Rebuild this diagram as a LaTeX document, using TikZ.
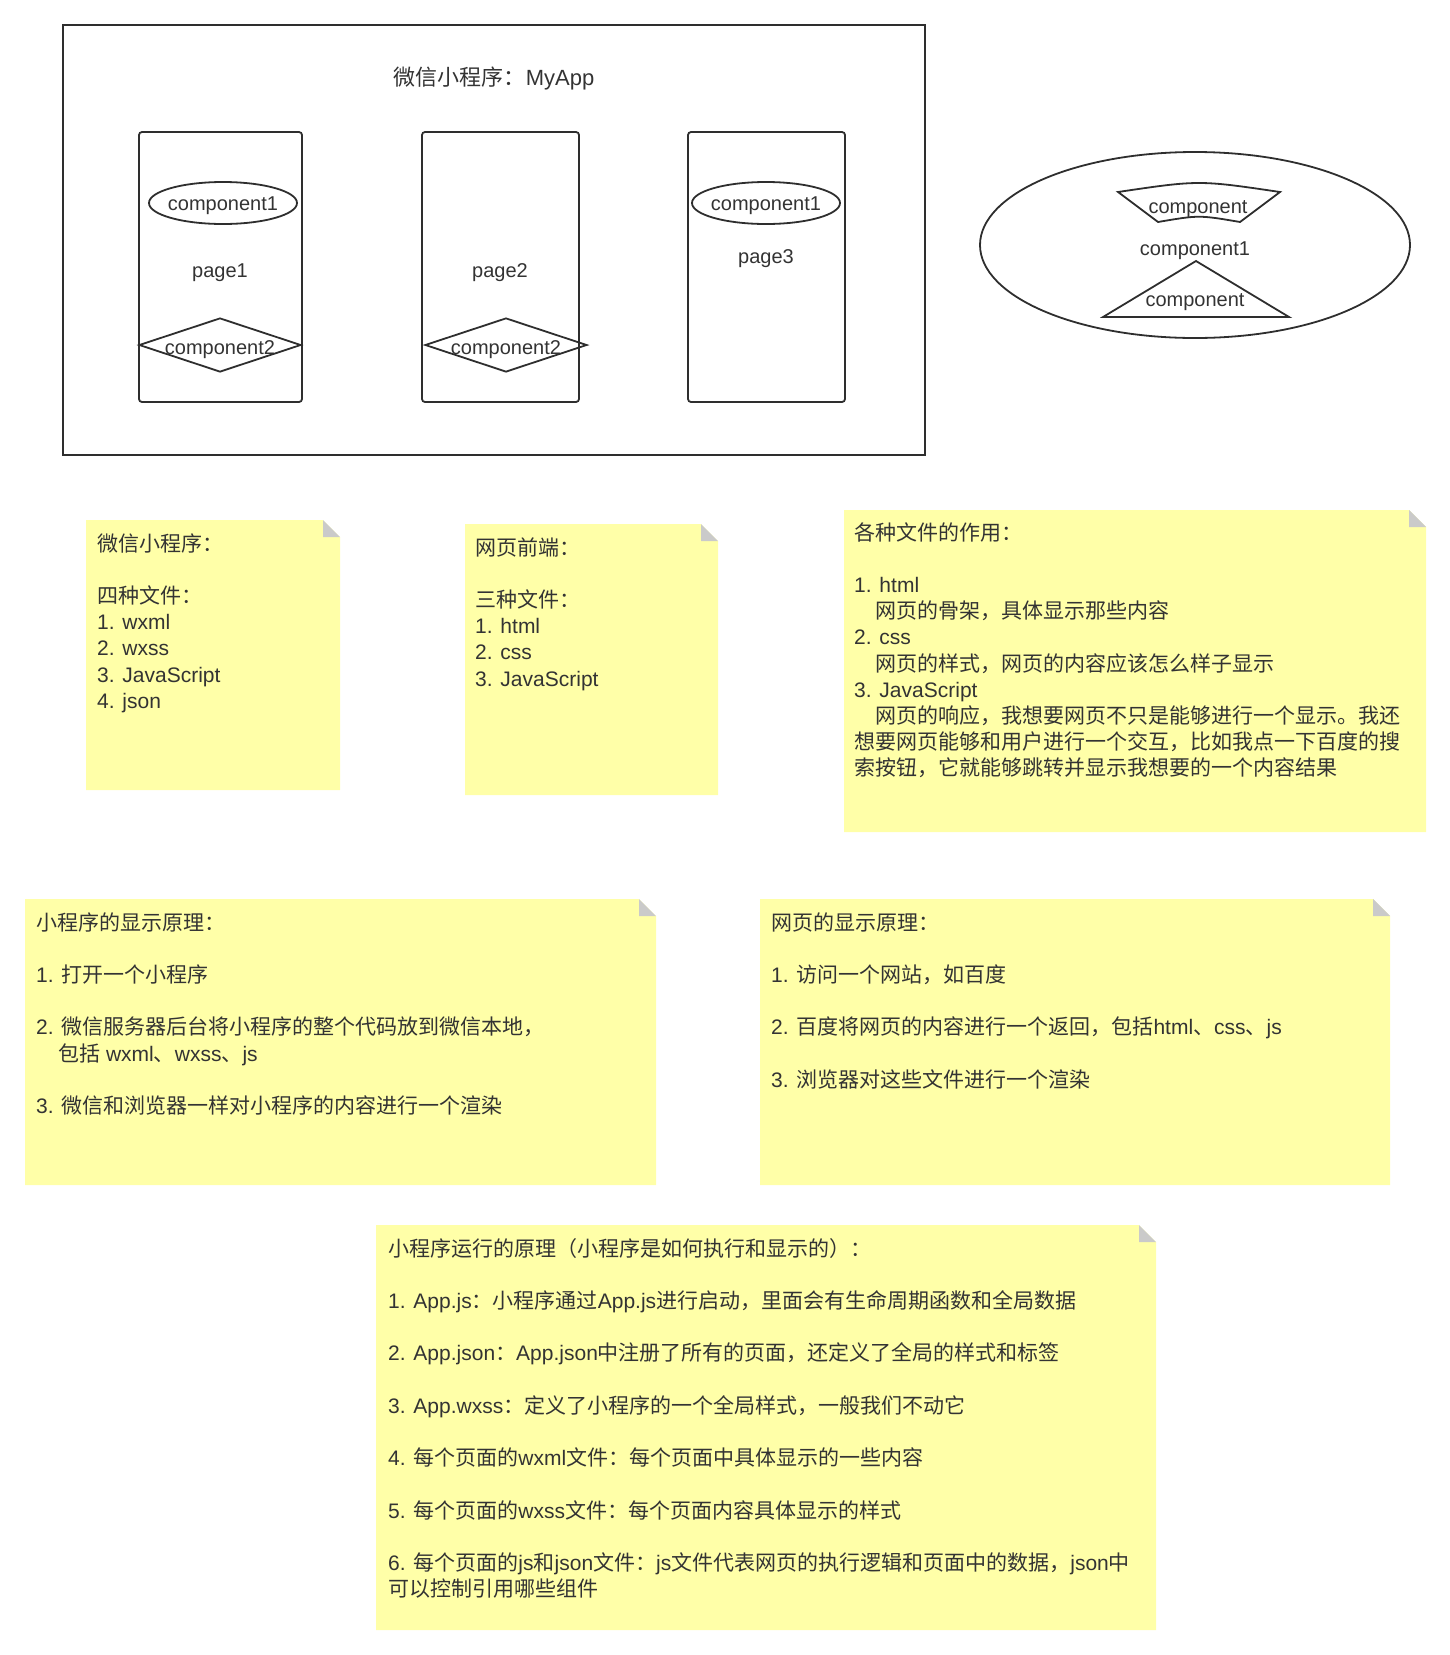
\documentclass[tikz,border=0pt]{standalone}
\usepackage{fontspec}
\usetikzlibrary{shapes.geometric}
\setmainfont{Liberation Sans}
\newfontfamily\cjkf{Noto Sans CJK SC}
\newfontfamily\latf{Liberation Sans}
\XeTeXinterchartokenstate=1
\newXeTeXintercharclass\cjkclass
\count255="3000
\loop \XeTeXcharclass\count255=\cjkclass \advance\count255 by 1 \ifnum\count255<"3040 \repeat
\count255="4E00
\loop \XeTeXcharclass\count255=\cjkclass \advance\count255 by 1 \ifnum\count255<"A000 \repeat
\count255="FF00
\loop \XeTeXcharclass\count255=\cjkclass \advance\count255 by 1 \ifnum\count255<"FFF0 \repeat
\XeTeXinterchartoks 0 \cjkclass = {\cjkf}
\XeTeXinterchartoks 4095 \cjkclass = {\cjkf}
\XeTeXinterchartoks \cjkclass 0 = {\latf}
\XeTeXinterchartoks \cjkclass 4095 = {\latf}
\definecolor{notey}{HTML}{FFFFA8}
\definecolor{foldc}{HTML}{CACACA}
\definecolor{txtc}{HTML}{333333}
\definecolor{linec}{HTML}{2E2E2E}
\tikzset{
  shp/.style={draw=linec, line width=1.8pt, inner sep=0pt},
  lbl/.style={font=\fontsize{20}{24}\selectfont, text=txtc, inner sep=0pt},
  ttl/.style={font=\fontsize{22}{26}\selectfont, text=txtc, inner sep=0pt},
  notetext/.style={anchor=base west, inner sep=0pt, font=\fontsize{21}{26}\selectfont, text=txtc},
}
\newcommand\stickynote[5]{%
  \fill[notey] (#2,#3) -- ({#4-17},#3) -- (#4,{#3+17}) -- (#4,#5) -- (#2,#5) -- cycle;
  \fill[foldc] ({#4-17},#3) -- ({#4-17},{#3+17}) -- (#4,{#3+17}) -- cycle;
  \coordinate (#1) at (#2,#3);}
\newcommand\notelines[4]{%
  \foreach \k/\t in {#4} {\node[notetext] (#1-\k) at (#2,{#3+26.2*\k}) {\t};}}
\begin{document}
\begin{tikzpicture}[x=1pt,y=-1pt]
\useasboundingbox (0,0) rectangle (1449,1655);
% ---- app box ----
\node[shp, line width=2pt, rectangle, minimum width=862pt, minimum height=430pt] (app) at (494,240) {};
\node[ttl] (apptitle) at (494,78) {微信小程序：MyApp};
% pages
\node[shp, rectangle, rounded corners=3pt, minimum width=163pt, minimum height=270pt] (page1) at (220.5,267) {};
\node[shp, rectangle, rounded corners=3pt, minimum width=157pt, minimum height=270pt] (page2) at (500.5,267) {};
\node[shp, rectangle, rounded corners=3pt, minimum width=157pt, minimum height=270pt] (page3) at (766.5,267) {};
\node[lbl] (p1lbl) at (220,273) {page1};
\node[lbl] (p2lbl) at (500,273) {page2};
\node[lbl] (p3lbl) at (766,259) {page3};
\node[shp, ellipse, minimum width=148pt, minimum height=42pt] (c1a) at (223,203) {};
\node[lbl] (c1at) at (223,206) {component1};
\node[shp, ellipse, minimum width=148pt, minimum height=42pt] (c1b) at (766,203) {};
\node[lbl] (c1bt) at (766,206) {component1};
\node[shp, diamond, aspect=3, minimum width=162pt, minimum height=54pt] (c2a) at (220,345) {};
\node[lbl] (c2at) at (220,350) {component2};
\node[shp, diamond, aspect=3, minimum width=162pt, minimum height=54pt] (c2b) at (506,345) {};
\node[lbl] (c2bt) at (506,350) {component2};
% ---- component ellipse ----
\node[shp, ellipse, minimum width=430pt, minimum height=186pt] (comp) at (1195,245) {};
\node[lbl] (compt) at (1195,251) {component1};
\draw[linec, line width=1.8pt, line join=miter] (1118,192) .. controls (1199,180) .. (1280,192) -- (1240,222) .. controls (1199,215) .. (1158,222) -- cycle;
\node[lbl] (subA) at (1198,209) {component};
\draw[linec, line width=1.8pt, line join=miter] (1196,261) -- (1289,317) -- (1103,317) -- cycle;
\node[lbl] (subB) at (1195,302) {component};
% ---- notes ----
\stickynote{n1}{86}{520}{340}{790}
\notelines{n1}{97}{551}{0/微信小程序：, 2/四种文件：, 3/1. wxml, 4/2. wxss, 5/3. JavaScript, 6/4. json}
\stickynote{n2}{465}{524}{718}{795}
\notelines{n2}{475}{555}{0/网页前端：, 2/三种文件：, 3/1. html, 4/2. css, 5/3. JavaScript}
\stickynote{n3}{844}{510}{1426}{832}
\notelines{n3}{854}{540}{0/各种文件的作用：, 2/1. html, 3/\hspace*{21pt}网页的骨架，具体显示那些内容, 4/2. css, 5/\hspace*{21pt}网页的样式，网页的内容应该怎么样子显示, 6/3. JavaScript, 7/\hspace*{21pt}网页的响应，我想要网页不只是能够进行一个显示。我还, 8/想要网页能够和用户进行一个交互，比如我点一下百度的搜, 9/索按钮，它就能够跳转并显示我想要的一个内容结果}
\stickynote{n4}{25}{899}{656}{1185}
\notelines{n4}{36}{930}{0/小程序的显示原理：, 2/1. 打开一个小程序, 4/2. 微信服务器后台将小程序的整个代码放到微信本地，, 5/\hspace*{22pt}包括 wxml、wxss、js, 7/3. 微信和浏览器一样对小程序的内容进行一个渲染}
\stickynote{n5}{760}{899}{1390}{1185}
\notelines{n5}{771}{930}{0/网页的显示原理：, 2/1. 访问一个网站，如百度, 4/2. 百度将网页的内容进行一个返回，包括html、css、js, 6/3. 浏览器对这些文件进行一个渲染}
\stickynote{n6}{376}{1225}{1156}{1630}
\notelines{n6}{388}{1256}{0/小程序运行的原理（小程序是如何执行和显示的）：, 2/1. App.js：小程序通过App.js进行启动，里面会有生命周期函数和全局数据, 4/2. App.json：App.json中注册了所有的页面，还定义了全局的样式和标签, 6/3. App.wxss：定义了小程序的一个全局样式，一般我们不动它, 8/4. 每个页面的wxml文件：每个页面中具体显示的一些内容, 10/5. 每个页面的wxss文件：每个页面内容具体显示的样式, 12/6. 每个页面的js和json文件：js文件代表网页的执行逻辑和页面中的数据，json中, 13/可以控制引用哪些组件}
\end{tikzpicture}
\end{document}
